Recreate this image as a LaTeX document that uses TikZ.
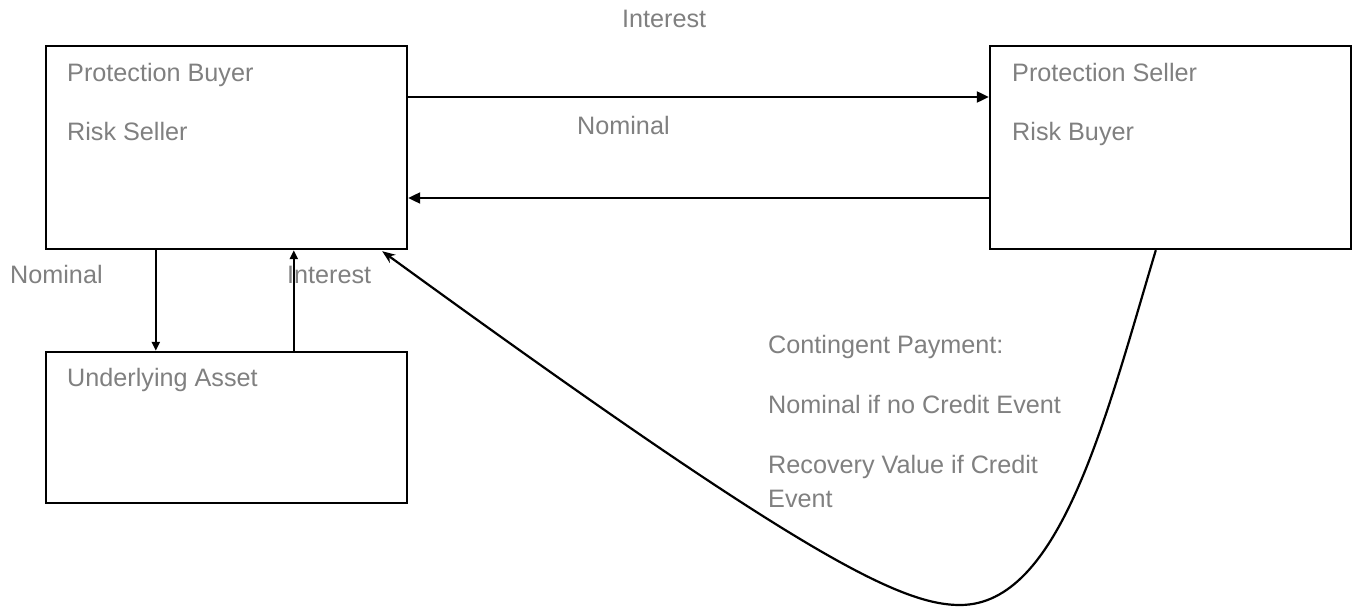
\documentclass[tikz,border=0pt]{standalone}
\usepackage{fontspec}
\setmainfont{Liberation Sans}
\usetikzlibrary{arrows.meta,calc}
\definecolor{labelgray}{RGB}{128,128,128}
\begin{document}
\begin{tikzpicture}[x=1pt,y=-1pt,
  box/.style={draw=black,line width=2.4pt,fill=white,inner sep=0pt,minimum width=361pt,minimum height=203pt},
  lbl/.style={anchor=base west,inner sep=0pt,text=labelgray,font=\fontsize{25.2}{30}\selectfont},
  flow/.style={line width=2.2pt,-{Triangle[length=12pt,width=11pt]}},
  small flow/.style={line width=2.2pt,-{Triangle[length=9pt,width=8pt]}},
  pay flow/.style={line width=2.2pt,-{Stealth[length=13pt,width=10pt]}}]
\fill[white] (0,0) rectangle (1357,607);
\useasboundingbox (0,0) rectangle (1357,607);

% parties
\node[box] (A) at (226.5,147.5) {};
\node[box] (B) at (1170.5,147.5) {};
\node[box,minimum height=151pt] (C) at (226.5,427.5) {};

% box texts
\node[lbl] (a1) at (67,82) {Protection Buyer};
\node[lbl] (a2) at (67,140) {Risk Seller};
\node[lbl] (b1) at (1012,82) {Protection Seller};
\node[lbl] (b2) at (1012,140) {Risk Buyer};
\node[lbl] (c1) at (67,386) {Underlying Asset};

% flow labels
\node[lbl] (tI) at (622,28) {Interest};
\node[lbl] (tN) at (577,135) {Nominal};
\node[lbl] (lN) at (10,283) {Nominal};
\node[lbl] (lI) at (287,283) {Interest};
\node[lbl] (k1) at (768,353) {Contingent Payment:};
\node[lbl] (k2) at (768,413) {Nominal if no Credit Event};
\node[lbl] (k3) at (768,473) {Recovery Value if Credit};
\node[lbl] (k4) at (768,507) {Event};

% premium leg and nominal exchange between the counterparties
\draw[flow] ([yshift=50.5pt]A.east) -- ([yshift=50.5pt]B.west);
\draw[flow] ([yshift=-50.5pt]B.west) -- ([yshift=-50.5pt]A.east);

% funding of the underlying asset
\coordinate (nd) at ($(A.south west)+(111,0)$);
\coordinate (iu) at ($(A.south west)+(249,0)$);
\draw[small flow] (nd) -- (nd |- C.north);
\draw[small flow] (iu |- C.north) -- (iu);

% contingent payment from seller to buyer
\coordinate (p0) at ($(B.south west)+(167,0)$);
\coordinate (p3) at ($(A.south east)+(-26,1)$);
\draw[pay flow] (p0) .. controls (1105,420) and (1060,605) .. (960,605)
  .. controls (900,605) and (800,555) .. (p3);
\end{tikzpicture}
\end{document}
